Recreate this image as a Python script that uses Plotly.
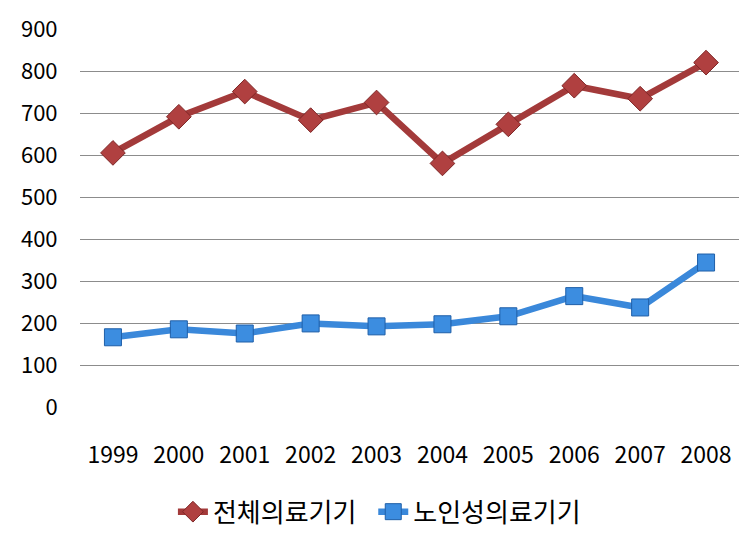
import plotly.graph_objects as go

years = ["1999", "2000", "2001", "2002", "2003", "2004", "2005", "2006", "2007", "2008"]
total_devices = [605, 691, 751, 683, 725, 580, 673, 765, 734, 820]
elderly_devices = [166, 185, 175, 199, 192, 197, 216, 264, 237, 344]
y_ticks = [0, 100, 200, 300, 400, 500, 600, 700, 800, 900]

font_family = "Noto Sans CJK KR, Noto Sans, sans-serif"

fig = go.Figure()
fig.add_trace(go.Scatter(
    x=years, y=total_devices, name="전체의료기기", mode="lines+markers",
    line=dict(color="#A33A3A", width=6.5),
    marker=dict(symbol="diamond", size=19, color="#B04040",
                line=dict(color="#7E2626", width=1)),
    legend="legend",
))
fig.add_trace(go.Scatter(
    x=years, y=elderly_devices, name="노인성의료기기", mode="lines+markers",
    line=dict(color="#3A88DA", width=6.5),
    marker=dict(symbol="square", size=17, color="#3C8DE0",
                line=dict(color="#1F5FA8", width=1)),
    legend="legend2",
))

legend_common = dict(orientation="h", yanchor="top", y=-0.215, xanchor="left",
                     font=dict(size=26, family=font_family, color="#000000"),
                     itemwidth=30, bgcolor="rgba(0,0,0,0)")

fig.update_layout(
    width=756, height=537,
    margin=dict(l=72, r=25, t=21, b=138, autoexpand=False),
    paper_bgcolor="white", plot_bgcolor="white",
    font=dict(family=font_family, size=22, color="#000000"),
    xaxis=dict(type="category", showgrid=False, showline=False, zeroline=False,
               ticks="outside", ticklen=27, tickcolor="rgba(0,0,0,0)",
               tickfont=dict(size=23), range=[-0.5, 9.5], automargin=False),
    yaxis=dict(range=[0, 900], tickvals=y_ticks, showgrid=True,
               gridcolor="#8C8C8C", gridwidth=1, zeroline=False, showline=False,
               ticks="outside", ticklen=17, tickcolor="rgba(0,0,0,0)",
               tickfont=dict(size=22), automargin=False),
    legend=dict(x=0.141, **legend_common),
    legend2=dict(x=0.445, **legend_common),
    showlegend=True,
)

fig.write_html("out.html")
